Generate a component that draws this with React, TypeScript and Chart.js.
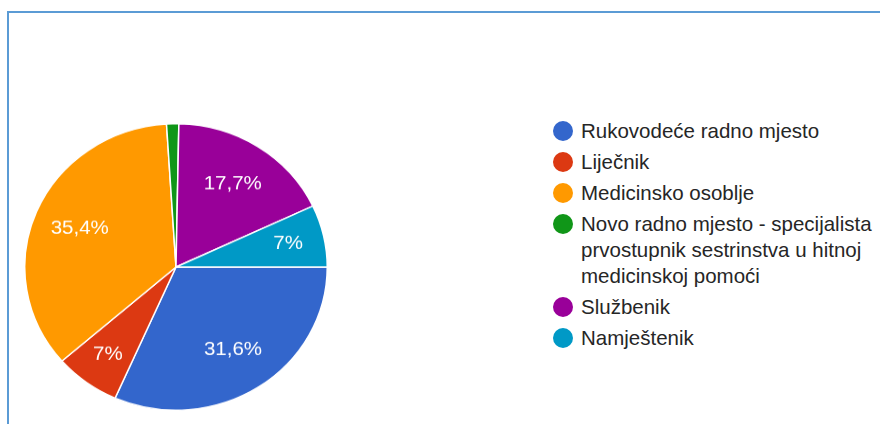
import React, { useEffect, useRef } from "react";
import { Chart, registerables } from "chart.js";

Chart.register(...registerables);

const categories = [
  "Rukovodeće radno mjesto",
  "Liječnik",
  "Medicinsko osoblje",
  "Novo radno mjesto - specijalista prvostupnik sestrinstva u hitnoj medicinskoj pomoći",
  "Službenik",
  "Namještenik",
];
const legendLines = [
  ["Rukovodeće radno mjesto"],
  ["Liječnik"],
  ["Medicinsko osoblje"],
  ["Novo radno mjesto - specijalista", "prvostupnik sestrinstva u hitnoj", "medicinskoj pomoći"],
  ["Službenik"],
  ["Namještenik"],
];
const values = [31.6, 7, 35.4, 1.3, 17.7, 7];
const colors = ["#3366cc", "#dc3912", "#ff9900", "#109618", "#990099", "#0099c6"];

const FONT = 'Arial, "Liberation Sans", sans-serif';
const SQUASH = 0.947;

function fmtPct(v: number, total: number) {
  const p = (v / total) * 100;
  let s = p.toFixed(1);
  if (s.endsWith(".0")) s = s.slice(0, -2);
  return s.replace(".", ",") + "%";
}

const sliceLabels = {
  id: "sliceLabels",
  afterDatasetsDraw(chart: any) {
    const ctx = chart.ctx;
    const meta = chart.getDatasetMeta(0);
    const data = chart.data.datasets[0].data as number[];
    const total = data.reduce((a, b) => a + b, 0);
    ctx.save();
    ctx.fillStyle = "#ffffff";
    ctx.font = `20.5px ${FONT}`;
    ctx.textAlign = "center";
    ctx.textBaseline = "middle";
    meta.data.forEach((arc: any, i: number) => {
      const pct = (data[i] / total) * 100;
      if (pct < 3) return;
      const { x, y, startAngle, endAngle, outerRadius } = arc.getProps(
        ["x", "y", "startAngle", "endAngle", "outerRadius"],
        true
      );
      const mid = (startAngle + endAngle) / 2;
      const r = outerRadius * (pct < 10 ? 0.76 : 0.69);
      ctx.fillText(fmtPct(data[i], total), x + Math.cos(mid) * r, y + Math.sin(mid) * r);
    });
    ctx.restore();
  },
};

export default function App() {
  const ref = useRef<HTMLCanvasElement | null>(null);
  useEffect(() => {
    if (!ref.current) return;
    const chart = new Chart(ref.current, {
      type: "pie",
      data: {
        labels: categories,
        datasets: [
          {
            data: values,
            backgroundColor: colors,
            borderColor: "#ffffff",
            borderWidth: 1.5,
          },
        ],
      },
      options: {
        animation: false,
        responsive: false,
        rotation: 90,
        layout: { padding: 0 },
        plugins: {
          legend: { display: false },
          tooltip: { enabled: false },
        },
      },
      plugins: [sliceLabels],
    });
    return () => chart.destroy();
  }, []);

  let y = 131;
  const rows: React.ReactNode[] = [];
  legendLines.forEach((lines, i) => {
    rows.push(
      <div
        key={"c" + i}
        style={{
          position: "absolute",
          left: 553,
          top: y - 10,
          width: 20,
          height: 20,
          borderRadius: "50%",
          background: colors[i],
        }}
      />
    );
    lines.forEach((ln, j) => {
      rows.push(
        <div
          key={"t" + i + "_" + j}
          style={{
            position: "absolute",
            left: 581,
            top: y + j * 26 - 13,
            height: 26,
            lineHeight: "26px",
            fontSize: 20.5,
            fontFamily: FONT,
            color: "#262626",
            whiteSpace: "nowrap",
            transform: `scaleY(${SQUASH})`,
          }}
        >
          {ln}
        </div>
      );
    });
    y += (lines.length - 1) * 26 + 31;
  });

  return (
    <div
      style={{
        position: "fixed",
        left: 0,
        top: 0,
        width: 880,
        height: 424,
        background: "#ffffff",
        overflow: "hidden",
      }}
    >
      <div
        style={{
          position: "absolute",
          left: 7,
          top: 11,
          width: 900,
          height: 500,
          borderTop: "2px solid #5b9bd5",
          borderLeft: "2px solid #5b9bd5",
        }}
      />
      <div
        style={{
          position: "absolute",
          left: 24,
          top: 115,
          width: 304,
          height: 304,
          transform: `scaleY(${SQUASH})`,
          transformOrigin: "50% 50%",
        }}
      >
        <canvas
          ref={ref}
          width={304}
          height={304}
          style={{ display: "block", width: 304, height: 304 }}
        />
      </div>
      {rows}
    </div>
  );
}
